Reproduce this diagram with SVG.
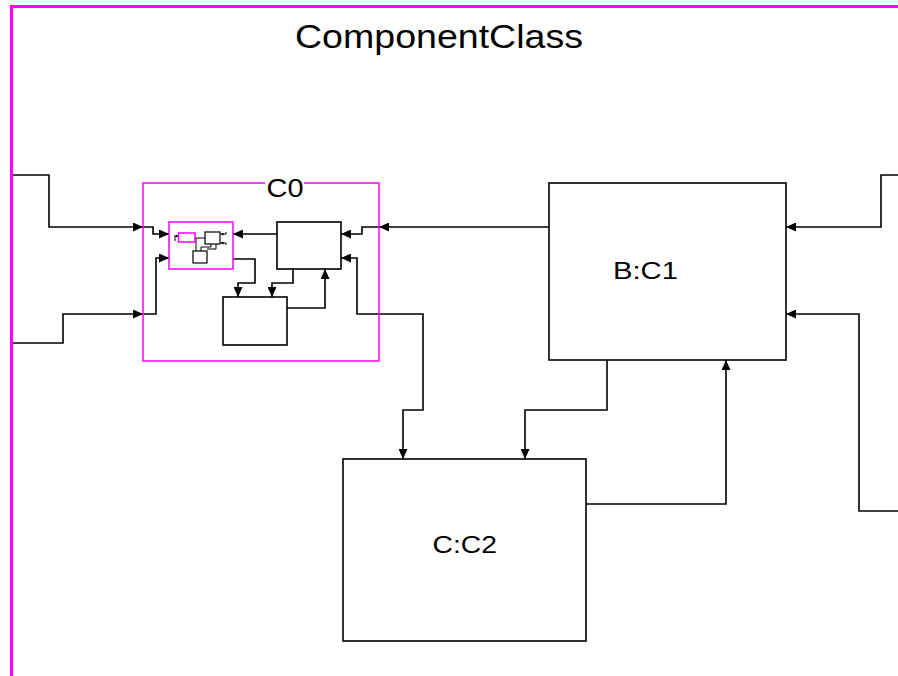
<svg xmlns="http://www.w3.org/2000/svg" width="898" height="676" viewBox="0 0 898 676">
<style>
.frame{fill:none;stroke:#ff00ff;stroke-width:3}
.comp{fill:none;stroke:#ff00ff;stroke-width:1.5}
.box{fill:#fff;stroke:#000;stroke-width:1.6}
.sbox{fill:#fff;stroke:#000;stroke-width:1.2}
.wire{fill:none;stroke:#000;stroke-width:1.6}
.swire{fill:none;stroke:#000;stroke-width:1}
.lbl{font-family:"Liberation Sans",Arial,sans-serif;fill:#000}
</style>
<defs>
<marker id="arr" markerUnits="userSpaceOnUse" markerWidth="10" markerHeight="9" refX="10" refY="4.5" orient="auto">
<path d="M0,0 L10,4.5 L0,9 z" fill="#000"/>
</marker>
<marker id="sarr" markerUnits="userSpaceOnUse" markerWidth="3" markerHeight="3" refX="3" refY="1.5" orient="auto">
<path d="M0,0 L3,1.5 L0,3 z" fill="#000"/>
</marker>
</defs>
<rect width="898" height="676" fill="#fff"/>
<g id="ComponentClass">
<rect class="frame" x="11.5" y="6.5" width="900" height="700"/>
<text class="lbl" x="295" y="48" font-size="33" textLength="288" lengthAdjust="spacingAndGlyphs">ComponentClass</text>
</g>
<g id="connectors">
<path class="wire" d="M13,175 H49 V227 H143" marker-end="url(#arr)"/>
<path class="wire" d="M13,343 H63 V314 H143" marker-end="url(#arr)"/>
<path class="wire" d="M143,227 H153 V234 H169" marker-end="url(#arr)"/>
<path class="wire" d="M143,314 H156 V258 H169" marker-end="url(#arr)"/>
<path class="wire" d="M549,227 H379" marker-end="url(#arr)"/>
<path class="wire" d="M379,227 H362 V234 H341" marker-end="url(#arr)"/>
<path class="wire" d="M277,234 H233" marker-end="url(#arr)"/>
<path class="wire" d="M233,259 H255 V283 H238 V297" marker-end="url(#arr)"/>
<path class="wire" d="M293,269 V283 H272 V297" marker-end="url(#arr)"/>
<path class="wire" d="M287,308 H325 V269" marker-end="url(#arr)"/>
<path class="wire" d="M379,314 H357 V258 H341" marker-end="url(#arr)"/>
<path class="wire" d="M379,314 H423 V410 H403 V459" marker-end="url(#arr)"/>
<path class="wire" d="M607,360 V410 H525 V459" marker-end="url(#arr)"/>
<path class="wire" d="M586,504 H726 V360" marker-end="url(#arr)"/>
<path class="wire" d="M898,175 H881 V227 H786" marker-end="url(#arr)"/>
<path class="wire" d="M898,511 H859 V314 H786" marker-end="url(#arr)"/>
</g>
<g id="C0">
<rect class="comp" x="143" y="183" width="236" height="178"/>
<rect x="265" y="176" width="39" height="14" fill="#fff"/>
<text class="lbl" x="266.5" y="197" font-size="25" textLength="37" lengthAdjust="spacingAndGlyphs">C0</text>
</g>
<g id="C0_sub">
<rect class="comp" x="169" y="222" width="64" height="47"/>
<path class="swire" d="M174,236 H178.5" marker-end="url(#sarr)"/>
<path class="swire" d="M175,236 V241"/>
<path class="swire" d="M195,238 H205"/>
<path class="swire" d="M196,238 V251"/>
<path class="swire" d="M211,244 V247 H201 V251"/>
<path class="swire" d="M216,244 V249 H207"/>
<path class="swire" d="M226,232 V234 H220.5" marker-end="url(#sarr)"/>
<path class="swire" d="M226,245 V243 H220.5" marker-end="url(#sarr)"/>
<rect class="comp" x="178.5" y="233" width="16.5" height="9" stroke-width="1.2"/>
<rect class="sbox" x="205" y="232" width="15" height="12"/>
<rect class="sbox" x="193" y="251" width="14" height="12"/>
</g>
<g id="C0_a">
<rect class="box" x="277" y="222" width="64" height="47"/>
</g>
<g id="C0_b">
<rect class="box" x="223" y="297" width="64" height="48"/>
</g>
<g id="B_C1">
<rect class="box" x="549" y="183" width="237" height="177"/>
<text class="lbl" x="613" y="279" font-size="23" textLength="65" lengthAdjust="spacingAndGlyphs">B:C1</text>
</g>
<g id="C_C2">
<rect class="box" x="343" y="459" width="243" height="182"/>
<text class="lbl" x="432.5" y="553" font-size="23" textLength="64.5" lengthAdjust="spacingAndGlyphs">C:C2</text>
</g>
</svg>
